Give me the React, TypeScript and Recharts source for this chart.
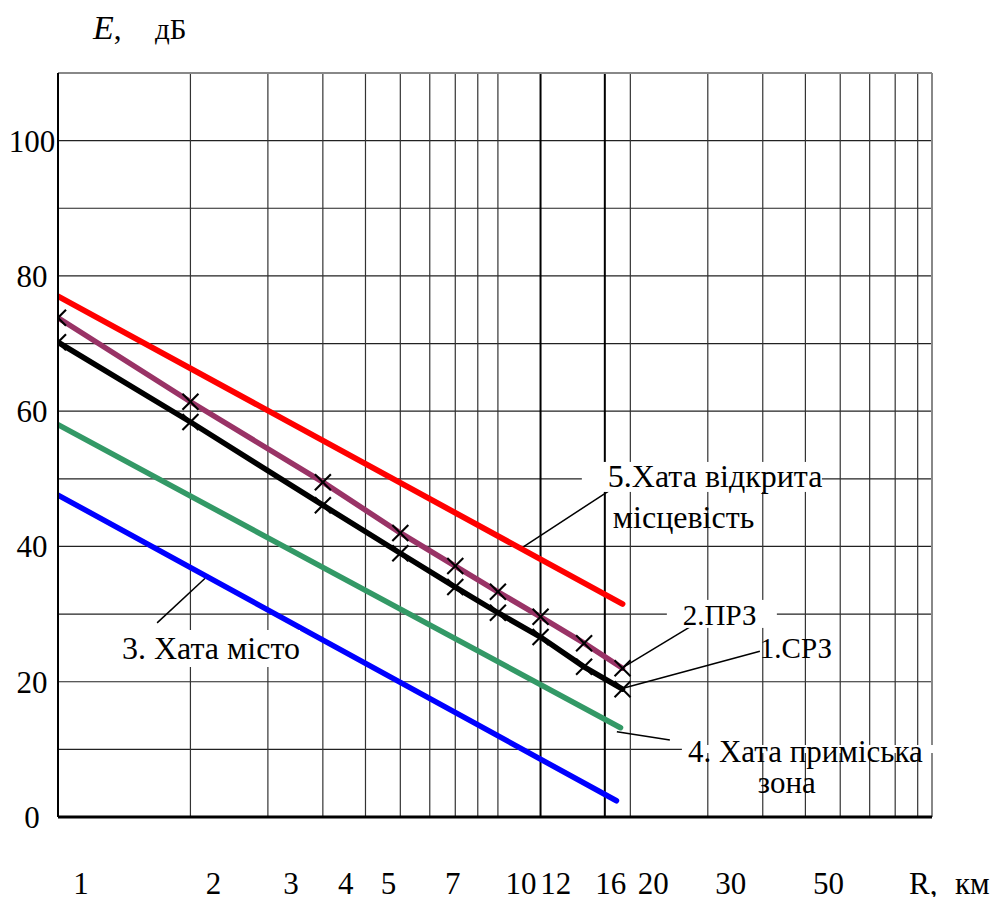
import React from 'react';
import { LineChart, Line, XAxis, YAxis, CartesianGrid, ReferenceLine, ReferenceDot } from 'recharts';

// ---- data ----
const distancesKm = [1, 2, 4, 6, 8, 10, 12.5, 15.7, 19.2];
const srzValues = [70.2, 58.4, 46.1, 39.0, 34.0, 30.2, 26.6, 22.2, 18.9];
const przValues = [73.8, 61.4, 49.5, 42.0, 37.1, 33.3, 29.6, 25.7, 22.0];

const hataOpenR = [1, 19.2];
const hataOpenE = [77.0, 31.5];
const hataSuburbR = [1, 19.0];
const hataSuburbE = [58.0, 13.2];
const hataCityR = [1, 18.6];
const hataCityE = [47.6, 2.4];

const xTickLabels = [1, 2, 3, 4, 5, 7, 10, 12, 16, 20, 30, 50];
const xGridValues = [2, 3, 4, 5, 6, 7, 8, 9, 10, 20, 30, 40, 50, 60, 70, 80, 90];
const xExtraGrid = [12.5, 17.5];
const yTicks = [0, 10, 20, 30, 40, 50, 60, 70, 80, 90, 100, 110];
const yLabelTicks = [0, 20, 40, 60, 80, 100];

const X_DOMAIN: [number, number] = [1, 97];
const Y_DOMAIN: [number, number] = [0, 110];

const zip = (rs: number[], es: number[]) => rs.map((R, i) => ({ R, E: es[i] }));
const srzData = zip(distancesKm, srzValues);
const przData = zip(distancesKm, przValues);
const openData = zip(hataOpenR, hataOpenE);
const suburbData = zip(hataSuburbR, hataSuburbE);
const cityData = zip(hataCityR, hataCityE);

// annotation anchors (data coordinates)
const leaderLines = [
  [{ x: 11.4, y: 39.9 }, { x: 18.25, y: 48.6 }],
  [{ x: 19.13, y: 22.0 }, { x: 28.3, y: 28.7 }],
  [{ x: 19.44, y: 19.1 }, { x: 39.4, y: 24.5 }],
  [{ x: 18.64, y: 12.6 }, { x: 24.6, y: 11.4 }],
  [{ x: 1.68, y: 28.7 }, { x: 2.16, y: 35.3 }],
];

const annotations = [
  { text: '5.Хата відкрита', x: 17.78, y: 48.8, size: 32, box: [-26, -25, 240, 30] },
  { text: 'місцевість', x: 18.25, y: 42.7, size: 32, box: null },
  { text: '2.ПРЗ', x: 26.33, y: 28.4, size: 29, box: [-16, -25, 110, 28] },
  { text: '1.СРЗ', x: 39.4, y: 23.5, size: 29, box: null },
  { text: '4. Хата приміська', x: 27.03, y: 8.13, size: 31, box: [-6, -17, 258, 8] },
  { text: 'зона', x: 38.98, y: 3.5, size: 31, box: null },
  { text: '3. Хата місто', x: 1.398, y: 23.36, size: 32, box: [-7, -29, 185, 37] },
];

const SERIF: React.CSSProperties = { fontFamily: 'Liberation Serif, Times New Roman, serif' };

const Cross = (props: any) => {
  const { cx, cy } = props;
  if (cx == null || cy == null) return null;
  const s = 8;
  return (
    <g>
      <line x1={cx - s} y1={cy - s} x2={cx + s} y2={cy + s} stroke="#000" strokeWidth={2.1} />
      <line x1={cx - s} y1={cy + s} x2={cx + s} y2={cy - s} stroke="#000" strokeWidth={2.1} />
    </g>
  );
};

const XTick = (props: any) => {
  const { x, y, payload } = props;
  return (
    <text x={x + 23} y={y + 77} textAnchor="middle" style={SERIF} fontSize={31} fill="#000">
      {payload.value}
    </text>
  );
};

const YTick = (props: any) => {
  const { x, y, payload } = props;
  if (!yLabelTicks.includes(payload.value)) return <g />;
  return (
    <text x={x - 26} y={y + 11} textAnchor="middle" style={SERIF} fontSize={31} fill="#000">
      {payload.value}
    </text>
  );
};

const makeLabelShape = (a: any) => (props: any) => {
  const { cx, cy } = props;
  if (cx == null || cy == null) return <g />;
  return (
    <g>
      {a.box && (
        <rect x={cx + a.box[0]} y={cy + a.box[1]} width={a.box[2]} height={a.box[3]} fill="#fff" />
      )}
      <text x={cx} y={cy} style={SERIF} fontSize={a.size} fill="#000">
        {a.text}
      </text>
    </g>
  );
};

export default function App() {
  return (
    <div style={{ position: 'relative', width: 990, height: 889 }}>
      <LineChart
        width={990}
        height={889}
        margin={{ top: 65, right: 66, bottom: 0, left: 0 }}
        style={{ background: '#fff' }}
      >
        <CartesianGrid vertical={false} stroke="#222" strokeWidth={1.2} />
        <XAxis
          type="number"
          dataKey="R"
          scale="log"
          domain={X_DOMAIN}
          allowDataOverflow
          ticks={xTickLabels}
          interval={0}
          height={80}
          tickSize={0}
          tickMargin={0}
          tickLine={false}
          axisLine={{ stroke: '#000', strokeWidth: 3 }}
          tick={<XTick />}
        />
        <YAxis
          type="number"
          dataKey="E"
          domain={Y_DOMAIN}
          allowDataOverflow
          ticks={yTicks}
          interval={0}
          width={50}
          tickSize={0}
          tickMargin={0}
          tickLine={false}
          axisLine={{ stroke: '#000', strokeWidth: 2 }}
          tick={<YTick />}
        />
        {xGridValues.map((v) => (
          <ReferenceLine key={'g' + v} x={v} stroke="#333" strokeWidth={1.2} />
        ))}
        {xExtraGrid.map((v) => (
          <ReferenceLine key={'e' + v} x={v} stroke="#000" strokeWidth={2} />
        ))}
        <ReferenceLine y={110} stroke="#888" strokeWidth={2} />
        <ReferenceLine x={97} stroke="#888" strokeWidth={2} />
        {annotations.map((a, i) => (
          <ReferenceDot key={'a' + i} x={a.x} y={a.y} r={0} shape={makeLabelShape(a)} />
        ))}
        {leaderLines.map((seg, i) => (
          <ReferenceLine key={'l' + i} segment={seg} stroke="#000" strokeWidth={1.5} />
        ))}
        <Line data={openData} dataKey="E" stroke="#ff0000" strokeWidth={5.8} strokeLinecap="round" dot={false} isAnimationActive={false} />
        <Line data={suburbData} dataKey="E" stroke="#339966" strokeWidth={5.5} strokeLinecap="round" dot={false} isAnimationActive={false} />
        <Line data={cityData} dataKey="E" stroke="#0000ff" strokeWidth={5.5} strokeLinecap="round" dot={false} isAnimationActive={false} />
        <Line
          data={przData}
          dataKey="E"
          stroke="#993366"
          strokeWidth={5.5}
          strokeLinecap="round"
          dot={(p: any) => <Cross key={'p' + p.index} {...p} />}
          isAnimationActive={false}
        />
        <Line
          data={srzData}
          dataKey="E"
          stroke="#000"
          strokeWidth={5.5}
          strokeLinecap="round"
          dot={(p: any) => <Cross key={'s' + p.index} {...p} />}
          isAnimationActive={false}
        />
      </LineChart>
      <svg
        width={990}
        height={889}
        style={{ position: 'absolute', left: 0, top: 0, pointerEvents: 'none' }}
      >
        <text x={85} y={31} style={SERIF} fill="#000">
          <tspan fontSize={34} fontStyle="italic">E</tspan>
          <tspan fontSize={31}>,</tspan>
          <tspan x={147} fontSize={29}>дБ</tspan>
        </text>
        <text x={901} y={886} style={SERIF} fill="#000">
          <tspan fontSize={31}>R,</tspan>
          <tspan x={947} fontSize={31}>км</tspan>
        </text>
      </svg>
    </div>
  );
}
